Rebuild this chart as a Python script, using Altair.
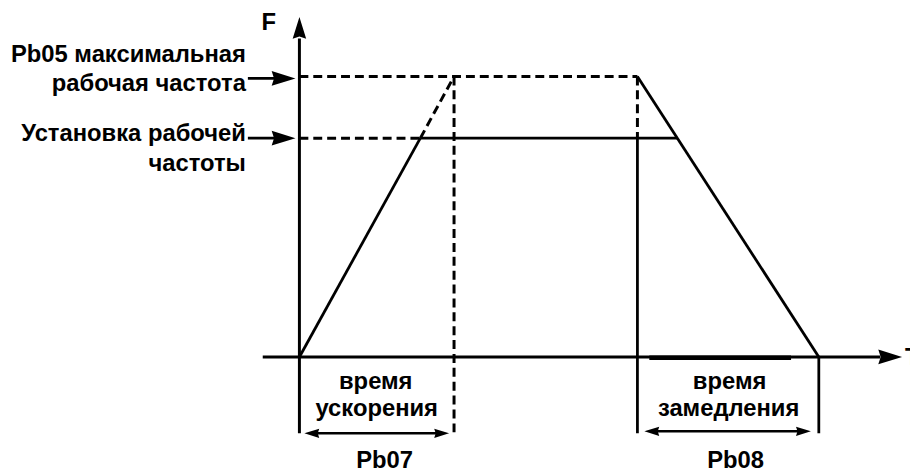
import altair as alt
import pandas as pd

# ---- diagram values: time t (arbitrary units), frequency f (% of Pb05 max) ----
F_MAX = 100.0
F_SET = 78.0
T_ACC_SET = 12.2     # acceleration ramp reaches set frequency
T_ACC_END = 15.6     # acceleration ramp would reach max frequency (Pb07)
T_DEC_START = 34.1
T_DEC_SET = 38.1     # deceleration ramp crosses set frequency
T_DEC_END = 52.4     # end of deceleration (Pb08)

# segments: start t, start f, end t, end f, style
seg_t1 = [0.0, -3.7, 0.0, T_ACC_SET, T_DEC_START, T_DEC_START, T_DEC_END, -5.2, -5.2, 1.5, 35.8,
          0.0, 0.0, T_ACC_SET, T_ACC_END, T_DEC_START, 35.3]
seg_f1 = [-27.2, 0.0, 0.0, F_SET, F_SET, F_MAX, 0.0, 99.3, F_SET, -27.2, -26.5,
          F_MAX, F_SET, F_SET, F_MAX, F_MAX, -0.3]
seg_t2 = [0.0, 58.6, T_ACC_SET, T_DEC_SET, T_DEC_START, T_DEC_END, T_DEC_END, -2.0, -2.0, 14.1, 50.6,
          T_DEC_START, T_ACC_SET, T_ACC_END, T_ACC_END, T_DEC_START, 49.6]
seg_f2 = [113.5, 0.0, F_SET, F_SET, -27.2, 0.0, -27.2, 99.3, F_SET, -27.2, -26.5,
          F_MAX, F_SET, F_MAX, -27.2, F_SET, -0.3]
seg_style = ["axis", "axis", "solid", "solid", "solid", "solid", "solid", "solid", "solid", "thin", "thin",
             "dash", "dash", "dash", "dash", "dash", "thick"]

# arrowheads: tip position, direction (deg clockwise from up), length in px
head_t = [0.0, 60.8, -0.4, -0.4, 0.5, 15.1, 34.8, 51.6]
head_f = [121.2, 0.0, 99.3, F_SET, -27.2, -27.2, -26.5, -26.5]
head_angle = [0, 90, 90, 90, 270, 90, 270, 90]
head_len = [22, 24, 24, 24, 15, 15, 15, 15]

# labels
lab_text = ["Pb05 максимальная", "рабочая частота", "Установка рабочей", "частоты",
            "время", "ускорения", "Pb07", "время", "замедления", "Pb08", "F", "T"]
lab_t = [-5.4, -5.4, -5.4, -5.4, 7.7, 7.8, 8.6, 43.4, 43.3, 44.0, -3.1, 61.1]
lab_f = [105.3, 94.7, 77.0, 66.4, -11.3, -21.2, -39.6, -11.3, -21.2, -39.6, 116.6, -2.8]
lab_align = ["right", "right", "right", "right", "center", "center", "center",
             "center", "center", "center", "center", "left"]

W, H = 910, 465
X_DOM = [-29.4, -29.4 + W / 10.0]
Y_DOM = [(350 - H) / 2.83, 350 / 2.83]

xs = alt.Scale(domain=X_DOM, nice=False, zero=False)
ys = alt.Scale(domain=Y_DOM, nice=False, zero=False)

segs = pd.DataFrame({"t": seg_t1, "f": seg_f1, "t2": seg_t2, "f2": seg_f2, "style": seg_style})
heads = pd.DataFrame({"t": head_t, "f": head_f, "ang": head_angle,
                      "sz": [(2 * L) ** 2 for L in head_len]})
labs = pd.DataFrame({"t": lab_t, "f": lab_f, "text": lab_text, "align": lab_align})

def seg_layer(style, **kw):
    return alt.Chart(segs).transform_filter(alt.datum.style == style).mark_rule(
        color="black", **kw
    ).encode(
        x=alt.X("t:Q", scale=xs, axis=None),
        y=alt.Y("f:Q", scale=ys, axis=None),
        x2="t2:Q",
        y2="f2:Q",
    )

layers = [
    seg_layer("axis", strokeWidth=3),
    seg_layer("solid", strokeWidth=2.8),
    seg_layer("thin", strokeWidth=2.4),
    seg_layer("dash", strokeWidth=3, strokeDash=[9, 5]),
    seg_layer("thick", strokeWidth=4.5),
    alt.Chart(heads).mark_point(
        shape="M0,0L0.31,1L0,0.9L-0.31,1Z", filled=True, color="black", opacity=1, strokeWidth=0
    ).encode(
        x=alt.X("t:Q", scale=xs, axis=None),
        y=alt.Y("f:Q", scale=ys, axis=None),
        angle=alt.Angle("ang:Q", scale=None),
        size=alt.Size("sz:Q", scale=None),
    ),
]

for al in ["right", "center", "left"]:
    layers.append(
        alt.Chart(labs).transform_filter(alt.datum.align == al).mark_text(
            align=al, baseline="alphabetic", font="Liberation Sans", fontSize=24,
            fontWeight="bold", color="black"
        ).encode(
            x=alt.X("t:Q", scale=xs, axis=None),
            y=alt.Y("f:Q", scale=ys, axis=None),
            text="text:N",
        )
    )

chart = alt.layer(*layers).properties(
    width=W, height=H, padding=0, autosize=alt.AutoSizeParams(type="none"),
    background="white",
).configure_view(stroke=None)

chart.save("out.html", embed_options={"renderer": "svg", "actions": False})
